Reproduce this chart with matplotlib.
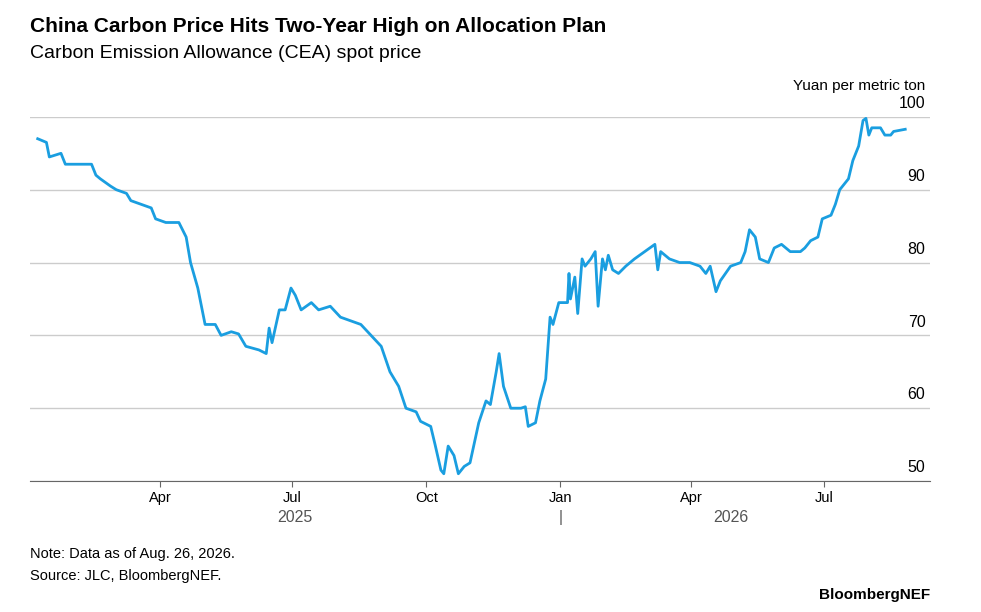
import matplotlib.pyplot as plt
import matplotlib.dates as mdates
import pandas as pd

plt.rcParams["font.family"] = ["Liberation Sans", "DejaVu Sans"]

dates = ["2025-01-07", "2025-01-13", "2025-01-15", "2025-01-23", "2025-01-26", "2025-02-13",
         "2025-02-16", "2025-02-19", "2025-02-26", "2025-03-02", "2025-03-09", "2025-03-12",
         "2025-03-19", "2025-03-26", "2025-03-29", "2025-04-05", "2025-04-14", "2025-04-19",
         "2025-04-22", "2025-04-27", "2025-05-02", "2025-05-09", "2025-05-13", "2025-05-20",
         "2025-05-25", "2025-05-30", "2025-06-08", "2025-06-13", "2025-06-15", "2025-06-17",
         "2025-06-22", "2025-06-26", "2025-06-30", "2025-07-03", "2025-07-07", "2025-07-14",
         "2025-07-19", "2025-07-27", "2025-08-03", "2025-08-10", "2025-08-17", "2025-08-24",
         "2025-08-31", "2025-09-06", "2025-09-12", "2025-09-17", "2025-09-24", "2025-09-27",
         "2025-10-04", "2025-10-07", "2025-10-11", "2025-10-13", "2025-10-16", "2025-10-20",
         "2025-10-23", "2025-10-27", "2025-10-31", "2025-11-06", "2025-11-11", "2025-11-14",
         "2025-11-18", "2025-11-20", "2025-11-23", "2025-11-28", "2025-12-05", "2025-12-08",
         "2025-12-10", "2025-12-15", "2025-12-18", "2025-12-22", "2025-12-25", "2025-12-27",
         "2025-12-31", "2026-01-06", "2026-01-07", "2026-01-08", "2026-01-11", "2026-01-13",
         "2026-01-16", "2026-01-18", "2026-01-22", "2026-01-25", "2026-01-27", "2026-01-30",
         "2026-02-01", "2026-02-03", "2026-02-06", "2026-02-10", "2026-02-15", "2026-02-21",
         "2026-02-28", "2026-03-07", "2026-03-09", "2026-03-11", "2026-03-14", "2026-03-17",
         "2026-03-24", "2026-03-31", "2026-04-07", "2026-04-11", "2026-04-14", "2026-04-18",
         "2026-04-21", "2026-04-28", "2026-05-05", "2026-05-08", "2026-05-11", "2026-05-15",
         "2026-05-18", "2026-05-24", "2026-05-28", "2026-06-02", "2026-06-08", "2026-06-15",
         "2026-06-18", "2026-06-22", "2026-06-27", "2026-06-30", "2026-07-06", "2026-07-09",
         "2026-07-12", "2026-07-18", "2026-07-21", "2026-07-25", "2026-07-28", "2026-07-30",
         "2026-08-01", "2026-08-03", "2026-08-09", "2026-08-12", "2026-08-16", "2026-08-18",
         "2026-08-26"]
prices = [97, 96.5, 94.5, 95, 93.5, 93.5, 92, 91.5, 90.5, 90, 89.5, 88.5,
          88, 87.5, 86, 85.5, 85.5, 83.5, 80, 76.5, 71.5, 71.5, 70, 70.5,
          70.2, 68.5, 68, 67.5, 71, 69, 73.5, 73.5, 76.5, 75.5, 73.5, 74.5,
          73.5, 74, 72.5, 72, 71.5, 70, 68.5, 65, 63, 60, 59.5, 58.2,
          57.5, 55, 51.5, 51, 54.8, 53.5, 51, 52, 52.5, 58, 61, 60.5,
          65, 67.5, 63, 60, 60, 60.2, 57.5, 58, 61, 64, 72.5, 71.5,
          74.5, 74.5, 78.5, 75, 78, 73, 80.5, 79.5, 80.5, 81.5, 74, 80.5,
          79, 81, 79, 78.5, 79.5, 80.5, 81.5, 82.5, 79, 81.5, 81, 80.5,
          80, 80, 79.5, 78.5, 79.5, 76, 77.5, 79.5, 80, 81.5, 84.5, 83.5,
          80.5, 80, 82, 82.5, 81.5, 81.5, 82, 83, 83.5, 86, 86.5, 88,
          90, 91.5, 94, 96, 99.5, 99.8, 97.5, 98.5, 98.5, 97.5, 97.5, 98,
          98.3]
yticks = [50, 60, 70, 80, 90, 100]

x = pd.to_datetime(dates)

fig = plt.figure(figsize=(9.81, 6.12), dpi=100)
ax = fig.add_axes([0.031, 0.214, 0.917, 0.595])
ax.plot(x, prices, color="#1a9ee0", lw=2)

ax.set_ylim(50, 100)
ax.set_xlim(pd.Timestamp("2025-01-02"), pd.Timestamp("2026-09-12"))
ax.set_yticks(yticks)
ax.set_yticklabels([])
for v in yticks:
    ax.text(0.995, v + 0.8, str(v), transform=ax.get_yaxis_transform(),
            ha="right", va="bottom", fontsize=11.5)
ax.tick_params(axis="y", length=0)
ax.grid(axis="y", color="#cccccc", lw=1)
ax.set_axisbelow(True)
for s in ["top", "right", "left"]:
    ax.spines[s].set_visible(False)
ax.spines["bottom"].set_color("#666666")

ax.xaxis.set_major_locator(mdates.MonthLocator(bymonth=[1, 4, 7, 10]))
ax.xaxis.set_major_formatter(mdates.DateFormatter("%b"))
ax.tick_params(axis="x", which="major", length=4, color="#666666", labelsize=10.5)

ax.text(pd.Timestamp("2025-07-03"), 45.0, "2025", ha="center", va="center", fontsize=11.5, color="#555555")
ax.text(pd.Timestamp("2026-04-28"), 45.0, "2026", ha="center", va="center", fontsize=11.5, color="#555555")
ax.text(pd.Timestamp("2026-01-01"), 45.0, "|", ha="center", va="center", fontsize=11.5, color="#555555")
ax.text(0.995, 1.075, "Yuan per metric ton", transform=ax.transAxes, ha="right", fontsize=11)

fig.text(0.031, 0.948, "China Carbon Price Hits Two-Year High on Allocation Plan",
         fontsize=15, fontweight="bold")
fig.text(0.031, 0.905, "Carbon Emission Allowance (CEA) spot price", fontsize=14)
fig.text(0.031, 0.088, "Note: Data as of Aug. 26, 2026.", fontsize=10.5)
fig.text(0.031, 0.053, "Source: JLC, BloombergNEF.", fontsize=10.5)
fig.text(0.948, 0.022, "BloombergNEF", fontsize=11, fontweight="bold", ha="right")

fig.savefig("out.png", dpi=100)
